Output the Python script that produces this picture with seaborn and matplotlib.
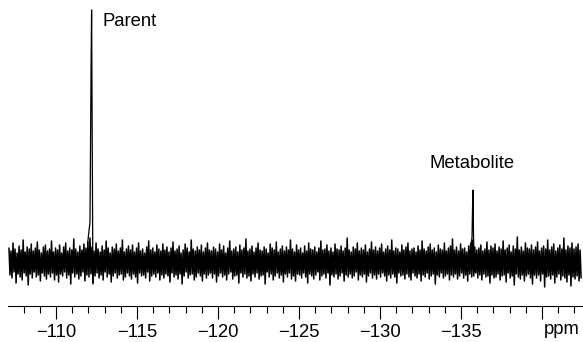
import numpy as np
import pandas as pd
import matplotlib
matplotlib.use("Agg")
import matplotlib.pyplot as plt
import seaborn as sns

# baseline noise envelope, read every 0.125 ppm from -107.1 ppm (intensity, baseline = 0)
ppm_start = -107.1
ppm_step = -0.125
noise_hi = [14, 11, 19, 13, 9, 16, 12, 22, 10, 15, 13, 18, 11, 14, 20, 12, 9, 15, 17, 11,
            13, 21, 10, 14, 12, 17, 9, 15, 19, 11, 14, 12, 23, 13, 10, 16, 12, 18, 14, 20,
            24, 15, 11, 19, 13, 10, 16, 12, 21, 14, 9, 15, 13, 18, 11, 14, 22, 10, 13, 16,
            12, 17, 10, 14, 19, 11, 13, 9, 15, 21, 12, 14, 10, 17, 13, 11, 18, 12, 15, 10,
            14, 20, 11, 13, 16, 9, 12, 18, 14, 10, 22, 13, 11, 15, 12, 17, 10, 14, 19, 12,
            11, 15, 13, 10, 18, 12, 16, 9, 14, 21, 11, 13, 15, 10, 17, 12, 14, 23, 11, 13,
            16, 10, 14, 19, 12, 11, 15, 13, 9, 18, 14, 12, 20, 10, 13, 16, 11, 15, 12, 22,
            13, 10, 17, 12, 14, 9, 16, 11, 19, 13, 12, 15, 10, 14, 21, 12, 13, 17, 11, 14,
            10, 18, 13, 12, 16, 11, 14, 24, 12, 10, 15, 13, 19, 11, 14, 12, 17, 10, 13, 20,
            12, 15, 11, 14, 18, 10, 13, 16, 12, 22, 11, 14, 13, 10, 17, 12, 15, 19, 11, 13,
            14, 10, 16, 12, 21, 13, 11, 15, 18, 12, 14, 10, 17, 13, 12, 19, 11, 14, 16, 23,
            12, 15, 11, 18, 13, 14, 10, 16, 19, 22, 15, 12, 14, 17, 11, 13, 20, 12, 16, 14,
            18, 11, 15, 13, 21, 12, 14, 17, 10, 16, 13, 25, 12, 15, 11, 19, 14, 13, 17, 12,
            15, 20, 11, 14, 16, 13, 22, 12, 15, 18, 11, 14, 17, 13, 24, 12, 16, 14, 19, 13,
            15, 18, 12]
noise_lo = [-13, -16, -10, -21, -12, -15, -18, -11, -14, -23, -12, -16, -10, -15, -13, -19, -11, -14, -17, -12,
            -15, -11, -18, -13, -20, -12, -14, -10, -16, -13, -22, -11, -15, -12, -17, -14, -10, -19, -13, -15,
            -12, -21, -14, -11, -16, -13, -18, -10, -15, -12, -20, -14, -11, -16, -13, -12, -18, -15, -11, -14,
            -17, -12, -15, -21, -11, -14, -13, -16, -10, -19, -14, -12, -15, -11, -18, -13, -16, -12, -14, -20,
            -11, -15, -13, -17, -12, -22, -14, -10, -16, -13, -12, -18, -15, -11, -14, -19, -12, -16, -13, -11,
            -16, -12, -20, -14, -11, -15, -13, -18, -12, -10, -17, -14, -13, -21, -11, -15, -12, -16, -14, -19,
            -12, -15, -11, -17, -14, -13, -22, -10, -15, -12, -18, -14, -11, -16, -13, -20, -12, -15, -11, -17,
            -14, -19, -12, -13, -16, -11, -15, -21, -12, -14, -17, -13, -10, -18, -14, -12, -16, -11, -23, -13,
            -15, -12, -17, -14, -11, -19, -13, -15, -12, -16, -14, -10, -18, -13, -15, -12, -20, -14, -11, -16,
            -13, -17, -12, -15, -11, -14, -19, -13, -16, -12, -15, -21, -11, -14, -13, -17, -12, -15, -18, -11,
            -14, -16, -12, -19, -13, -15, -11, -17, -14, -12, -22, -13, -15, -11, -16, -14, -12, -18, -13, -15,
            -12, -17, -14, -11, -16, -13, -19, -12, -15, -14, -11, -16, -13, -18, -12, -15, -14, -21, -13, -16,
            -15, -12, -18, -14, -13, -20, -11, -16, -14, -23, -12, -15, -17, -13, -19, -14, -12, -16, -22, -13,
            -16, -13, -19, -12, -25, -15, -14, -17, -13, -21, -15, -12, -18, -14, -16, -20, -13, -24, -15, -17,
            -14, -19, -16]

# peaks
parent_ppm = [-111.95, -112.1, -112.17, -112.2, -112.23, -112.28, -112.35]
parent_int = [18, 40, 200, 252, 150, -22, 5]
metab_ppm = [-135.6, -135.68, -135.72, -135.74, -135.77, -135.82, -135.9]
metab_int = [12, 25, 60, 72, 30, -10, 5]

tick_pos = [-110, -115, -120, -125, -130, -135, -140]
tick_lab = ["\u2212110", "\u2212115", "\u2212120", "\u2212125", "\u2212130", "\u2212135", ""]

# interleave envelope into one trace
rows = []
for i, (h, l) in enumerate(zip(noise_hi, noise_lo)):
    x = ppm_start + i * ppm_step
    rows.append((x, h))
    rows.append((x + ppm_step / 2, l))
noise = pd.DataFrame(rows, columns=["ppm", "intensity"])

sns.set_style("white")
plt.rcParams["font.family"] = ["Liberation Sans", "DejaVu Sans"]
plt.rcParams["font.size"] = 13.3
plt.rcParams["text.color"] = "black"
plt.rcParams["xtick.color"] = "black"

fig = plt.figure(figsize=(5.83, 3.42), dpi=100)
ax = fig.add_axes([8 / 583, 36 / 342, 575 / 583, 306 / 342])

sns.lineplot(data=noise, x="ppm", y="intensity", sort=False, estimator=None,
             color="black", lw=1.1, ax=ax)
sns.lineplot(x=parent_ppm, y=parent_int, sort=False, estimator=None,
             color="black", lw=0.9, ax=ax)
sns.lineplot(x=metab_ppm, y=metab_int, sort=False, estimator=None,
             color="black", lw=0.9, ax=ax)

ax.text(-112.9, 240, "Parent", ha="left", va="center", color="black")
ax.text(-135.68, 99, "Metabolite", ha="center", va="center", color="black")

ax.set_xlim(-107.04, -142.53)
ax.set_ylim(-44, 262)
ax.set_xticks(tick_pos)
ax.set_xticklabels(tick_lab)
ax.set_xticks([v for v in range(-108, -143, -1) if v % 5 != 0], minor=True)
ax.tick_params(axis="x", which="major", direction="out", length=9, width=0.8,
               pad=4, bottom=True, labelsize=13.3, colors="black")
ax.tick_params(axis="x", which="minor", direction="out", length=5, width=0.8,
               bottom=True, colors="black")
ax.text(-141.2, -0.078, "ppm", ha="center", va="center",
        transform=ax.get_xaxis_transform(), fontsize=13.3, color="black")
ax.set_yticks([])
ax.set_xlabel("")
ax.set_ylabel("")
for s in ["left", "top", "right"]:
    ax.spines[s].set_visible(False)
ax.spines["bottom"].set_linewidth(0.8)
ax.spines["bottom"].set_color("black")

fig.savefig("out.png", dpi=100)
